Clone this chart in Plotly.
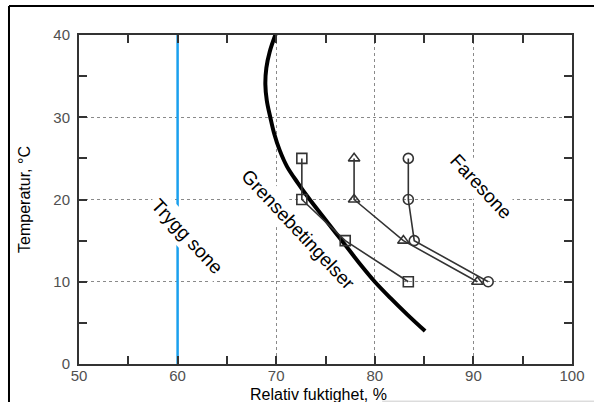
import plotly.graph_objects as go

# ---- data ----
x_ticks = [50, 60, 70, 80, 90, 100]
y_ticks = [0, 10, 20, 30, 40]

safe_rh = [60, 60]
safe_t = [0, 40]

limit_t = [40.3, 38, 36, 34, 32, 30, 28, 26, 24, 22, 20, 18, 16, 14, 12, 10, 8, 6, 4]
limit_rh = [70.0, 69.35, 69.0, 68.9, 69.05, 69.4, 69.8, 70.35, 71.1, 72.2, 73.4, 74.7,
            76.0, 77.3, 78.6, 80.0, 81.6, 83.3, 85.1]

sq_rh = [72.6, 72.6, 77.0, 83.4]
sq_t = [25, 20, 15, 10]

tri_rh = [77.9, 77.9, 82.9, 90.4]
tri_t = [25, 20, 15, 10]

circ_rh = [83.4, 83.4, 84.0, 91.5]
circ_t = [25, 20, 15, 10]

labels = ["Trygg sone", "Grensebetingelser", "Faresone"]
label_rh = [61.0, 72.2, 90.8]
label_t = [15.5, 16.3, 21.6]

x_title = "Relativ fuktighet, %"
y_title = "Temperatur, °C"

FONT = "Arial, Liberation Sans, sans-serif"

fig = go.Figure()

fig.add_trace(go.Scatter(x=safe_rh, y=safe_t, mode="lines",
                         line=dict(color="#1aa0ee", width=2.5), showlegend=False))

fig.add_trace(go.Scatter(x=limit_rh, y=limit_t, mode="lines",
                         line=dict(color="black", width=4, shape="spline", smoothing=1),
                         showlegend=False))

for xs, ys, sym in [(sq_rh, sq_t, "square-open"), (tri_rh, tri_t, "triangle-up-open"),
                    (circ_rh, circ_t, "circle-open")]:
    fig.add_trace(go.Scatter(x=xs, y=ys, mode="lines+markers",
                             line=dict(color="#333333", width=1.6),
                             marker=dict(symbol=sym, size=10, color="#333333",
                                         line=dict(width=1.6, color="#333333")),
                             showlegend=False))

for txt, xx, yy in zip(labels, label_rh, label_t):
    fig.add_annotation(x=xx, y=yy, text=txt, showarrow=False, textangle=47,
                       font=dict(family=FONT, size=19, color="black"),
                       bgcolor="white", borderpad=3, xanchor="center", yanchor="middle")

axis_common = dict(
    showline=True, linecolor="#333333", linewidth=2, mirror="ticks",
    ticks="inside", ticklen=8, tickwidth=1.5, tickcolor="#333333",
    showgrid=True, gridcolor="#8a8a8a", griddash="dot", gridwidth=1,
    zeroline=False, automargin=False,
    tickfont=dict(family=FONT, size=15, color="#505050"),
)

fig.update_xaxes(range=[50, 100], tickvals=x_ticks, ticklabelstandoff=-3,
                 minor=dict(dtick=5, ticks="inside", ticklen=8, tickcolor="#333333", showgrid=False),
                 **axis_common)
fig.update_yaxes(range=[0, 40], tickvals=y_ticks, ticklabelstandoff=4,
                 minor=dict(dtick=5, ticks="inside", ticklen=8, tickcolor="#333333", showgrid=False),
                 title=dict(text=y_title, standoff=19,
                            font=dict(family=FONT, size=16, color="black")),
                 **axis_common)

# x-axis title placed as annotation below tick labels
fig.add_annotation(xref="paper", yref="paper", x=0.485, y=-0.0915, text=x_title,
                   showarrow=False, xanchor="center", yanchor="middle",
                   font=dict(family=FONT, size=16, color="black"))

# outer frame (black top & left, faint bottom right)
fig.add_shape(type="line", xref="paper", yref="paper", x0=-0.142, x1=1.05, y0=1.088, y1=1.088,
              line=dict(color="black", width=2))
fig.add_shape(type="line", xref="paper", yref="paper", x0=-0.142, x1=-0.142, y0=1.088, y1=-0.13,
              line=dict(color="black", width=2))
fig.add_shape(type="line", xref="paper", yref="paper", x0=0.615, x1=1.05, y0=-0.113, y1=-0.113,
              line=dict(color="#cccccc", width=1))

fig.update_layout(width=594, height=402, margin=dict(l=79, r=22, t=35, b=38),
                  plot_bgcolor="white", paper_bgcolor="white")

fig.write_html("out.html")
